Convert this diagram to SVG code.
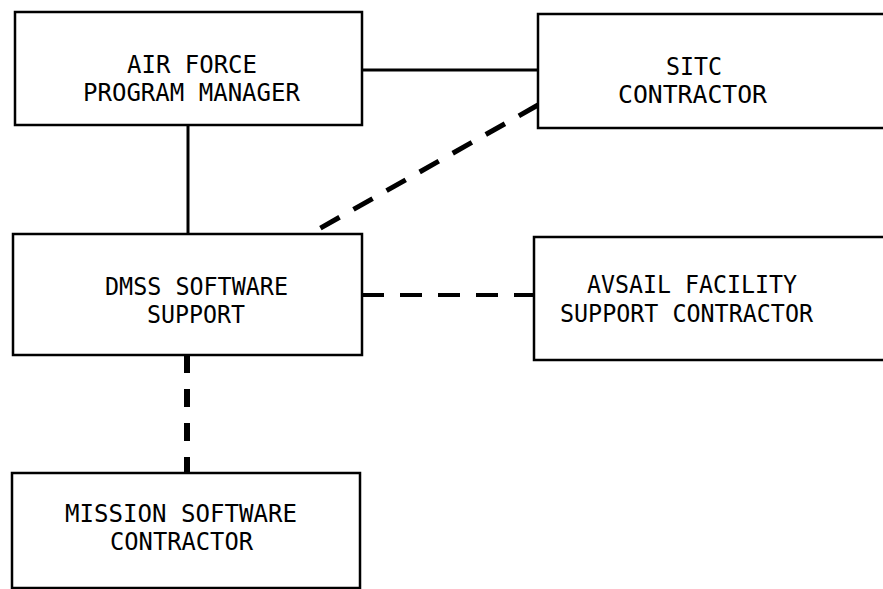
<svg xmlns="http://www.w3.org/2000/svg" width="883" height="589" viewBox="0 0 883 589">
<style>
.box{fill:#fff;stroke:#000;stroke-width:2.5}
.lbl{font-family:"DejaVu Sans Mono","Liberation Mono",monospace;font-size:24px;fill:#000}
.solid{stroke:#000;stroke-width:3;fill:none}
.dash{stroke:#000;stroke-width:5;fill:none;stroke-dasharray:22 16}
</style>
<rect width="883" height="589" fill="#fff"/>
<g id="connectors">
<line class="solid" x1="362" y1="70" x2="538" y2="70"/>
<line class="solid" x1="188" y1="125" x2="188" y2="234"/>
<line class="dash" x1="538" y1="105" x2="310" y2="234"/>
<line class="dash" x1="362" y1="295" x2="534" y2="295" style="stroke-width:4"/>
<line class="dash" x1="187" y1="355" x2="187" y2="473" style="stroke-width:6;stroke-dasharray:18 16"/>
</g>
<g id="air-force-program-manager">
<rect class="box" x="15" y="12" width="347" height="113"/>
<text class="lbl" x="127" y="73" textLength="130" lengthAdjust="spacingAndGlyphs">AIR FORCE</text>
<text class="lbl" x="83" y="101" textLength="217" lengthAdjust="spacingAndGlyphs">PROGRAM MANAGER</text>
</g>
<g id="sitc-contractor">
<rect class="box" x="538" y="14" width="360" height="114"/>
<text class="lbl" x="666" y="75" textLength="56" lengthAdjust="spacingAndGlyphs">SITC</text>
<text class="lbl" x="618" y="103" textLength="149" lengthAdjust="spacingAndGlyphs">CONTRACTOR</text>
</g>
<g id="dmss-software-support">
<rect class="box" x="13" y="234" width="349" height="121"/>
<text class="lbl" x="105" y="295" textLength="183" lengthAdjust="spacingAndGlyphs">DMSS SOFTWARE</text>
<text class="lbl" x="147" y="323" textLength="98" lengthAdjust="spacingAndGlyphs">SUPPORT</text>
</g>
<g id="avsail-facility-support-contractor">
<rect class="box" x="534" y="237" width="364" height="123"/>
<text class="lbl" x="587" y="293" textLength="210" lengthAdjust="spacingAndGlyphs">AVSAIL FACILITY</text>
<text class="lbl" x="560" y="322" textLength="253" lengthAdjust="spacingAndGlyphs">SUPPORT CONTRACTOR</text>
</g>
<g id="mission-software-contractor">
<rect class="box" x="12" y="473" width="348" height="115"/>
<text class="lbl" x="65" y="522" textLength="232" lengthAdjust="spacingAndGlyphs">MISSION SOFTWARE</text>
<text class="lbl" x="110" y="550" textLength="143" lengthAdjust="spacingAndGlyphs">CONTRACTOR</text>
</g>
</svg>
